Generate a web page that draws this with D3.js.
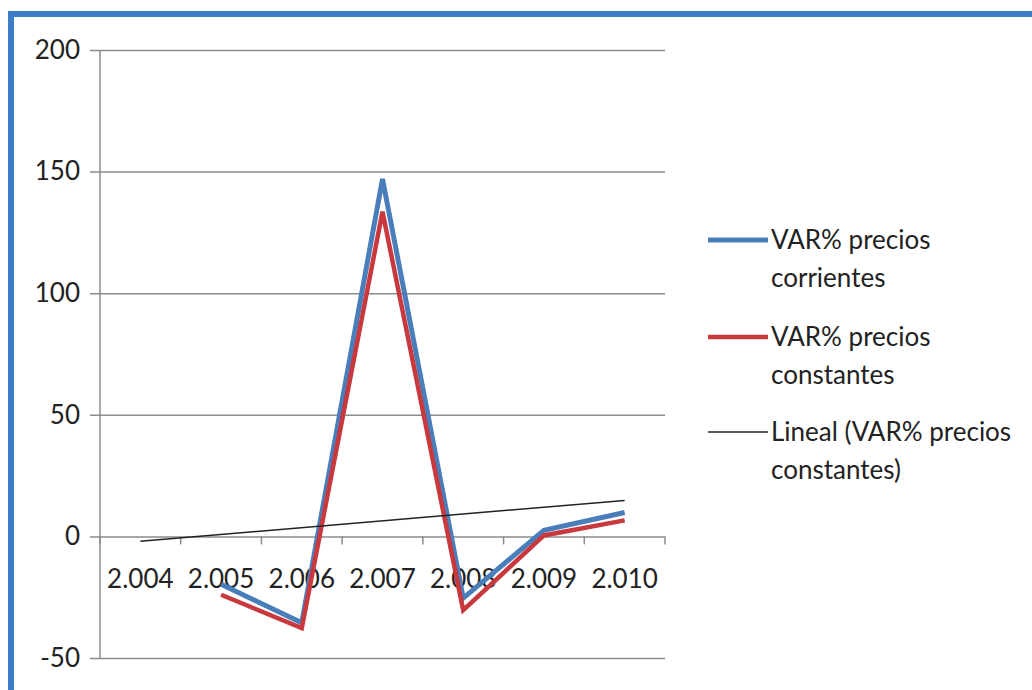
<!DOCTYPE html>
<html lang="es">
<head>
<meta charset="UTF-8" />
<title>VAR% precios</title>
<script src="https://cdn.jsdelivr.net/npm/d3@7"></script>
<style>
  body { margin: 0; background: #fff; }
  text { font-family: Lato, "Open Sans", sans-serif; fill: #222; }
</style>
</head>
<body>
<script>
// datos
var years = ["2.004", "2.005", "2.006", "2.007", "2.008", "2.009", "2.010"];
var corrientes = [null, -19.7, -35.5, 147, -25.4, 2.5, 9.8];
var constantes = [null, -24, -37.7, 133.5, -30.3, 0.4, 6.6];
var trendYears = ["2.004", "2.010"];
var trendValues = [-2, 14.8];
var yTicks = [-50, 0, 50, 100, 150, 200];
var legendNames = [["VAR% precios", "corrientes"], ["VAR% precios", "constantes"], ["Lineal (VAR% precios", "constantes)"]];

var w = 1032, h = 690;
var plot = { left: 100, right: 665, top: 50, bottom: 658 };

var svg = d3.select("body").append("svg")
            .attr("width", w)
            .attr("height", h);

// marco azul
svg.append("path")
   .attr("d", "M11,690 V14 H1032")
   .attr("fill", "none")
   .attr("stroke", "#3d7cc9")
   .attr("stroke-width", 6);

var xScale = d3.scaleBand()
               .domain(years)
               .range([plot.left, plot.right]);

var yScale = d3.scaleLinear()
               .domain([-50, 200])
               .range([plot.bottom, plot.top]);

// lineas de cuadricula + etiquetas eje y
var yAxis = d3.axisLeft(yScale)
              .tickValues(yTicks)
              .tickSize(-(plot.right - plot.left + 10))
              .tickPadding(10)
              .tickFormat(function(d) { return String(d); });

var gy = svg.append("g")
            .attr("transform", "translate(" + (plot.left - 10) + ",0)")
            .call(yAxis);
gy.select(".domain").remove();
gy.selectAll("line").attr("stroke", "#8c8c8c").attr("stroke-width", 1.5);
gy.selectAll("text").attr("font-size", "26px").style("fill", "#222");

svg.append("line")
   .attr("x1", plot.left).attr("x2", plot.left)
   .attr("y1", plot.top).attr("y2", plot.bottom)
   .attr("stroke", "#8c8c8c")
   .attr("stroke-width", 1.5);

// eje x sobre el cero
var zeroY = yScale(0);
var tickPos = years.map(function(d) { return xScale(d); }).concat([plot.right]);
svg.selectAll(".xtick")
   .data(tickPos)
   .enter()
   .append("line")
   .attr("class", "xtick")
   .attr("x1", function(d) { return d; })
   .attr("x2", function(d) { return d; })
   .attr("y1", zeroY)
   .attr("y2", zeroY + 8)
   .attr("stroke", "#8c8c8c")
   .attr("stroke-width", 1.5);

svg.selectAll(".xlabel")
   .data(years)
   .enter()
   .append("text")
   .attr("class", "xlabel")
   .attr("x", function(d) { return xScale(d) + xScale.bandwidth() / 2; })
   .attr("y", zeroY + 42)
   .attr("dy", "0.35em")
   .attr("text-anchor", "middle")
   .attr("font-size", "26px")
   .text(function(d) { return d; });

var cx = function(d, i) { return xScale(years[i]) + xScale.bandwidth() / 2; };

var line = d3.line()
             .defined(function(d) { return d !== null; })
             .x(cx)
             .y(function(d) { return yScale(d); });

svg.append("path")
   .datum(corrientes)
   .attr("d", line)
   .attr("fill", "none")
   .attr("stroke", "#4a7ebb")
   .attr("stroke-width", 5);

svg.append("path")
   .datum(constantes)
   .attr("d", line)
   .attr("fill", "none")
   .attr("stroke", "#c8383d")
   .attr("stroke-width", 4.5);

// linea de tendencia
var trendLine = d3.line()
                  .x(function(d, i) { return xScale(trendYears[i]) + xScale.bandwidth() / 2; })
                  .y(function(d) { return yScale(d); });
svg.append("path")
   .datum(trendValues)
   .attr("d", trendLine)
   .attr("fill", "none")
   .attr("stroke", "#222")
   .attr("stroke-width", 1.5);

// leyenda
var legendColors = ["#4a7ebb", "#c8383d", "#222"];
var legendWidths = [5, 4.5, 1.5];
var legendY = [240, 337, 432];

var lg = svg.selectAll(".legend")
            .data(legendNames)
            .enter()
            .append("g")
            .attr("class", "legend")
            .attr("transform", function(d, i) { return "translate(708," + legendY[i] + ")"; });

lg.append("line")
  .attr("x1", 0).attr("x2", 60)
  .attr("stroke", function(d, i) { return legendColors[i]; })
  .attr("stroke-width", function(d, i) { return legendWidths[i]; });

lg.append("text")
  .attr("x", 63)
  .attr("font-size", "26px")
  .selectAll("tspan")
  .data(function(d) { return d; })
  .enter()
  .append("tspan")
  .attr("x", 63)
  .attr("y", function(d, i) { return i * 38; })
  .attr("dy", "0.35em")
  .text(function(d) { return d; });
</script>
</body>
</html>
